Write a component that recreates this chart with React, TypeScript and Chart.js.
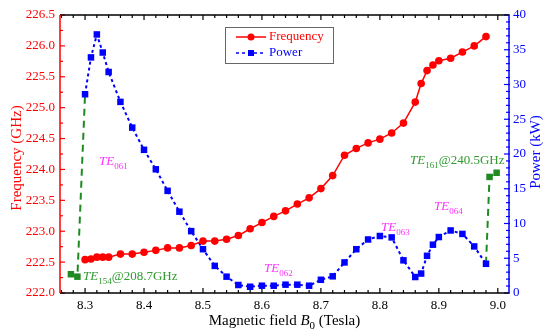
import React, { useEffect, useRef } from 'react';
import { Chart, registerables } from 'chart.js';
Chart.register(...registerables);

const magneticField = [8.30, 8.31, 8.32, 8.33, 8.34, 8.36, 8.38, 8.40, 8.42, 8.44, 8.46, 8.48, 8.50, 8.52, 8.54, 8.56, 8.58, 8.60, 8.62, 8.64, 8.66, 8.68, 8.70, 8.72, 8.74, 8.76, 8.78, 8.80, 8.82, 8.84, 8.86, 8.87, 8.88, 8.89, 8.90, 8.92, 8.94, 8.96, 8.98];
const frequency = [222.54, 222.55, 222.58, 222.58, 222.58, 222.63, 222.63, 222.66, 222.69, 222.73, 222.73, 222.77, 222.84, 222.84, 222.87, 222.93, 223.04, 223.14, 223.24, 223.33, 223.44, 223.54, 223.69, 223.90, 224.23, 224.34, 224.43, 224.49, 224.59, 224.75, 225.09, 225.39, 225.60, 225.69, 225.76, 225.80, 225.90, 226.00, 226.15];
const power = [28.6, 33.9, 37.2, 34.6, 31.8, 27.5, 23.8, 20.6, 17.8, 14.7, 11.7, 8.9, 6.3, 3.9, 2.35, 1.15, 0.9, 1.05, 1.05, 1.2, 1.2, 1.05, 1.9, 2.4, 4.4, 6.3, 7.7, 8.2, 8.0, 4.7, 2.3, 2.8, 5.35, 6.95, 8.05, 9.0, 8.5, 6.7, 4.2];
const greenLeftField = [8.276, 8.287, 8.30];
const greenLeftPower = [2.7, 2.35, 28.6];
const greenRightField = [8.98, 8.986, 8.998];
const greenRightPower = [4.2, 16.7, 17.3];
const xTicks = [8.3, 8.4, 8.5, 8.6, 8.7, 8.8, 8.9, 9.0];

const SERIF = "'Liberation Serif', 'Times New Roman', serif";
const RED = '#ff0000';
const BLUE = '#0000ff';
const GREEN = '#1f8a1f';
const GREEN_TXT = '#2f9a2f';
const MAGENTA = '#ff33ff';

type Seg = { t: string; italic?: boolean; sub?: boolean };

function drawRich(ctx: CanvasRenderingContext2D, segs: Seg[], x: number, y: number, size: number, color: string, center = false) {
  const subSize = Math.round(size * 0.7);
  const fontFor = (s: Seg) => `${s.italic ? 'italic ' : ''}${s.sub ? subSize : size}px ${SERIF}`;
  let total = 0;
  for (const s of segs) { ctx.font = fontFor(s); total += ctx.measureText(s.t).width; }
  let cx = center ? x - total / 2 : x;
  ctx.fillStyle = color;
  ctx.textBaseline = 'alphabetic';
  ctx.textAlign = 'left';
  for (const s of segs) {
    ctx.font = fontFor(s);
    ctx.fillText(s.t, cx, s.sub ? y + size * 0.28 : y);
    cx += ctx.measureText(s.t).width;
  }
}

const decorPlugin = {
  id: 'decor',
  beforeDatasetsDraw(chart: any) {
    const ctx: CanvasRenderingContext2D = chart.ctx;
    const { left, right, top, bottom } = chart.chartArea;
    const xs = chart.scales.x, ys = chart.scales.y, ps = chart.scales.y1;
    ctx.save();
    const line = (x1: number, y1: number, x2: number, y2: number, c: string, w = 1.5) => {
      ctx.beginPath(); ctx.strokeStyle = c; ctx.lineWidth = w; ctx.moveTo(x1, y1); ctx.lineTo(x2, y2); ctx.stroke();
    };
    const k0 = Math.ceil(xs.min / 0.02 - 1e-6), k1 = Math.floor(xs.max / 0.02 + 1e-6);
    for (let k = k0; k <= k1; k++) {
      const v = k * 0.02;
      const major = k % 5 === 0;
      const px = xs.getPixelForValue(v);
      const len = major ? 5 : 3;
      line(px, bottom, px, bottom - len, '#000', 1.2);
      line(px, top, px, top + len, '#000', 1.2);
    }
    for (let v = 222; v <= 226.5 + 1e-6; v += 0.25) {
      const py = ys.getPixelForValue(v);
      const major = Math.abs(v * 2 - Math.round(v * 2)) < 1e-6;
      line(left, py, left + (major ? 5 : 3), py, RED, 1.2);
    }
    for (let v = 0; v <= 40; v += 1) {
      const py = ps.getPixelForValue(v);
      const major = v % 5 === 0;
      line(right - (major ? 5 : 3), py, right + 1, py, BLUE, 1.2);
    }
    line(left, top, right, top, '#000');
    line(left, bottom, right, bottom, '#000');
    line(left, top, left, bottom, RED);
    line(right, top, right, bottom, BLUE);
    ctx.restore();
  },
  afterDraw(chart: any) {
    const ctx: CanvasRenderingContext2D = chart.ctx;
    const { left, right, top, bottom } = chart.chartArea;
    ctx.save();
    ctx.save();
    ctx.translate(17, (top + bottom) / 2 + 4);
    ctx.rotate(-Math.PI / 2);
    ctx.font = `15px ${SERIF}`; ctx.fillStyle = RED; ctx.textAlign = 'center'; ctx.textBaseline = 'middle';
    ctx.fillText('Frequency (GHz)', 0, 0);
    ctx.restore();
    ctx.save();
    ctx.translate(536, (top + bottom) / 2 - 2);
    ctx.rotate(-Math.PI / 2);
    ctx.font = `15px ${SERIF}`; ctx.fillStyle = BLUE; ctx.textAlign = 'center'; ctx.textBaseline = 'middle';
    ctx.fillText('Power (kW)', 0, 0);
    ctx.restore();
    drawRich(ctx, [{ t: 'Magnetic field ' }, { t: 'B', italic: true }, { t: '0', sub: true }, { t: ' (Tesla)' }], (left + right) / 2, 325, 15, '#000', true);

    drawRich(ctx, [{ t: 'TE', italic: true }, { t: '061', sub: true }], 99, 165, 13, MAGENTA);
    drawRich(ctx, [{ t: 'TE', italic: true }, { t: '062', sub: true }], 264, 272, 13, MAGENTA);
    drawRich(ctx, [{ t: 'TE', italic: true }, { t: '063', sub: true }], 381, 231, 13, MAGENTA);
    drawRich(ctx, [{ t: 'TE', italic: true }, { t: '064', sub: true }], 434, 210, 13, MAGENTA);
    drawRich(ctx, [{ t: 'TE', italic: true }, { t: '154', sub: true }, { t: '@208.7GHz' }], 83, 280, 13, GREEN_TXT);
    drawRich(ctx, [{ t: 'TE', italic: true }, { t: '161', sub: true }, { t: '@240.5GHz' }], 410, 164, 13, GREEN_TXT);

    ctx.strokeStyle = '#666'; ctx.lineWidth = 1;
    ctx.strokeRect(225.5, 27.5, 108, 36);
    ctx.beginPath(); ctx.strokeStyle = RED; ctx.lineWidth = 1.5; ctx.moveTo(236, 37); ctx.lineTo(266, 37); ctx.stroke();
    ctx.beginPath(); ctx.fillStyle = RED; ctx.arc(251, 37, 3.5, 0, Math.PI * 2); ctx.fill();
    ctx.beginPath(); ctx.strokeStyle = BLUE; ctx.lineWidth = 1.5; ctx.setLineDash([3, 3]); ctx.moveTo(236, 53); ctx.lineTo(266, 53); ctx.stroke();
    ctx.setLineDash([]);
    ctx.fillStyle = BLUE; ctx.fillRect(248, 50, 6, 6);
    ctx.font = `13px ${SERIF}`; ctx.textAlign = 'left'; ctx.textBaseline = 'middle';
    ctx.fillStyle = RED; ctx.fillText('Frequency', 269, 37);
    ctx.fillStyle = BLUE; ctx.fillText('Power', 269, 53);
    ctx.restore();
  },
};

export default function App() {
  const ref = useRef<HTMLCanvasElement>(null);
  useEffect(() => {
    document.body.style.margin = '0';
    const canvas = ref.current!;
    const chart = new Chart(canvas, {
      type: 'line',
      data: {
        datasets: [
          {
            label: 'Frequency',
            data: magneticField.map((x, i) => ({ x, y: frequency[i] })),
            yAxisID: 'y',
            borderColor: RED, backgroundColor: RED,
            borderWidth: 1.5, pointRadius: 3.8, pointStyle: 'circle',
            pointBorderWidth: 0,
          },
          {
            label: 'Power',
            data: magneticField.map((x, i) => ({ x, y: power[i] })),
            yAxisID: 'y1',
            borderColor: BLUE, backgroundColor: BLUE,
            borderWidth: 2, borderDash: [3, 3],
            pointRadius: 4.6, pointStyle: 'rect', pointBorderWidth: 0,
          },
          {
            label: 'GreenLeft',
            data: greenLeftField.map((x, i) => ({ x, y: greenLeftPower[i] })),
            yAxisID: 'y1',
            borderColor: GREEN, backgroundColor: GREEN,
            borderWidth: 2, borderDash: [7, 5],
            pointRadius: [4.6, 4.6, 0], pointStyle: 'rect', pointBorderWidth: 0,
          },
          {
            label: 'GreenRight',
            data: greenRightField.map((x, i) => ({ x, y: greenRightPower[i] })),
            yAxisID: 'y1',
            borderColor: GREEN, backgroundColor: GREEN,
            borderWidth: 2, borderDash: [7, 5],
            pointRadius: [0, 4.6, 4.6], pointStyle: 'rect', pointBorderWidth: 0,
          },
        ],
      },
      options: {
        responsive: false,
        animation: false,
        layout: { padding: { top: 15, left: 0, right: 0, bottom: 0 } },
        plugins: { legend: { display: false }, tooltip: { enabled: false } },
        elements: { line: { tension: 0 } },
        scales: {
          x: {
            type: 'linear', min: 8.2575, max: 9.019,
            grid: { display: false, drawTicks: false }, border: { display: false },
            afterBuildTicks: (s: any) => { s.ticks = xTicks.map((v) => ({ value: v })); },
            afterFit: (s: any) => { s.height = 40; },
            ticks: { color: '#000', font: { family: SERIF, size: 13 }, padding: 5, maxRotation: 0, autoSkip: false, callback: (v: any) => Number(v).toFixed(1) },
          },
          y: {
            type: 'linear', position: 'left', min: 222, max: 226.5,
            grid: { display: false, drawTicks: false }, border: { display: false },
            afterFit: (s: any) => { s.width = 60; },
            ticks: { stepSize: 0.5, color: RED, font: { family: SERIF, size: 13 }, padding: 5, callback: (v: any) => Number(v).toFixed(1) },
          },
          y1: {
            type: 'linear', position: 'right', min: 0, max: 40,
            grid: { display: false, drawTicks: false }, border: { display: false },
            afterFit: (s: any) => { s.width = 41; },
            ticks: { stepSize: 5, color: BLUE, font: { family: SERIF, size: 13 }, padding: 4 },
          },
        },
      },
      plugins: [decorPlugin],
    } as any);
    return () => chart.destroy();
  }, []);
  return <canvas ref={ref} width={550} height={333} style={{ display: 'block' }} />;
}
